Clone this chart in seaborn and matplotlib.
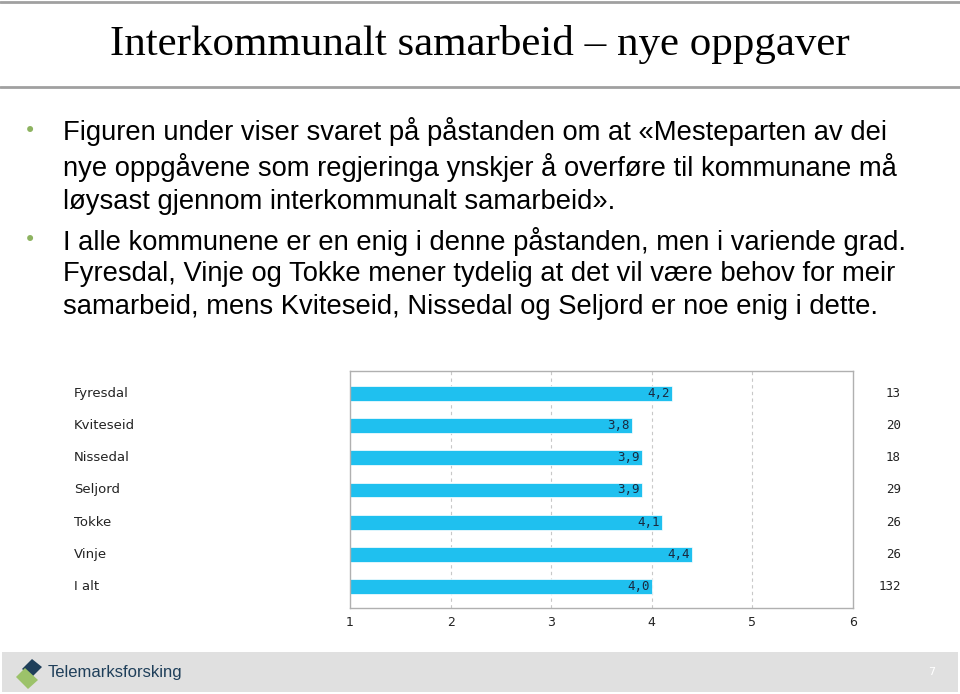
import matplotlib
matplotlib.use('Agg')
import matplotlib.pyplot as plt
from matplotlib.patches import Rectangle, Polygon
import pandas as pd
import seaborn as sns

# data
kommuner = ['Fyresdal', 'Kviteseid', 'Nissedal', 'Seljord', 'Tokke', 'Vinje', 'I alt']
snitt = [4.2, 3.8, 3.9, 3.9, 4.1, 4.4, 4.0]
antall = [13, 20, 18, 29, 26, 26, 132]
xticks = [1, 2, 3, 4, 5, 6]

title = 'Interkommunalt samarbeid \u2013 nye oppgaver'
bullet1 = ['Figuren under viser svaret på påstanden om at «Mesteparten av dei',
           'nye oppgåvene som regjeringa ynskjer å overføre til kommunane må',
           'løysast gjennom interkommunalt samarbeid».']
bullet2 = ['I alle kommunene er en enig i denne påstanden, men i variende grad.',
           'Fyresdal, Vinje og Tokke mener tydelig at det vil være behov for meir',
           'samarbeid, mens Kviteseid, Nissedal og Seljord er noe enig i dette.']

df = pd.DataFrame({'kommune': kommuner, 'snitt': snitt, 'n': antall})

sns.set_style('white')
W, H = 960, 694
fig = plt.figure(figsize=(W / 100, H / 100), dpi=100)

def fx(px):
    return px / W

def fy(py):
    return 1 - py / H

# slide decorations
fig.add_artist(plt.Line2D([0, 1], [fy(2), fy(2)], color='#a0a0a0', lw=2))
fig.add_artist(plt.Line2D([0, 1], [fy(87), fy(87)], color='#a0a0a0', lw=2))
fig.text(fx(480), fy(45), title, ha='center', va='center',
         family='Liberation Serif', fontsize=31, color='black')

# bullets: (first line y, line spacing) in pixels
for lines, (y, dy) in [(bullet1, (132, 35)), (bullet2, (241, 33))]:
    fig.text(fx(30), fy(y - 1), '\u2022', ha='center', va='center',
             fontsize=15, color='#8db360', family='DejaVu Sans')
    for ln in lines:
        fig.text(fx(63), fy(y), ln, ha='left', va='center',
                 family='Liberation Sans', fontsize=19.7, color='black')
        y += dy

# footer band
fig.add_artist(Rectangle((fx(2), fy(692)), fx(956), fy(652) - fy(692),
                         facecolor='#e0e0e0', edgecolor='none'))
fig.add_artist(Polygon([(fx(22), fy(669)), (fx(32), fy(659)), (fx(42), fy(667)), (fx(32), fy(677))],
                       closed=True, facecolor='#1f3f5a', edgecolor='none'))
fig.add_artist(Polygon([(fx(16), fy(677)), (fx(25), fy(668)), (fx(38), fy(680)), (fx(28), fy(689))],
                       closed=True, facecolor='#9cc26a', edgecolor='none'))
fig.text(fx(48), fy(673), 'Telemarksforsking', ha='left', va='center',
         family='Liberation Sans', fontsize=12, color='#1f3f5a')
fig.text(fx(932), fy(672), '7', ha='center', va='center', fontsize=8, color='white')

# chart
ax = fig.add_axes([fx(350), fy(608), fx(853) - fx(350), fy(371) - fy(608)])
sns.barplot(data=df, x='snitt', y='kommune', orient='h', color='#1fc0ef',
            saturation=1, width=0.46, ax=ax, edgecolor='white', linewidth=0.5)
ax.set_xlim(1, 6)
ax.set_ylim(6.66, -0.69)
ax.set_xticks(xticks)
ax.set_xticklabels([str(t) for t in xticks], fontsize=9, color='#222222')
ax.set_yticks([])
ax.set_xlabel('')
ax.set_ylabel('')
ax.tick_params(axis='x', length=0, pad=6)
for t in [2, 3, 4, 5]:
    ax.axvline(t, color='#c8c8c8', lw=0.8, ls=(0, (3, 3)), zorder=0)
for s in ax.spines.values():
    s.set_color('#b0b0b0')
    s.set_linewidth(1)

tr = ax.get_yaxis_transform()
for i, (k, v, n) in enumerate(zip(kommuner, snitt, antall)):
    ax.text(v - 0.02, i, f'{v:.1f}'.replace('.', ','), ha='right', va='center',
            fontsize=9, color='#1a2a40', family='DejaVu Sans Mono')
    ax.text(-0.549, i, k, transform=tr, ha='left', va='center', fontsize=9.5, color='#222222')
    ax.text(1.095, i, str(n), transform=tr, ha='right', va='center', fontsize=9,
            color='#222222', family='DejaVu Sans Mono')

fig.savefig('out.png', dpi=100)
